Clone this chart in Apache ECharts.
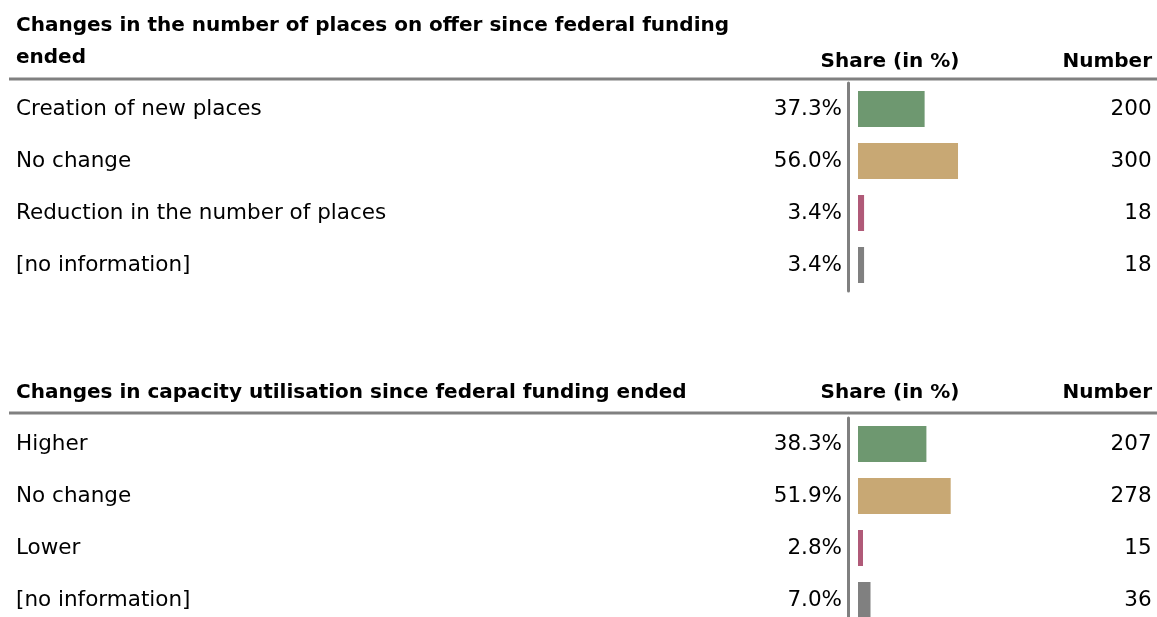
<!DOCTYPE html>
<html>
<head>
<meta charset="utf-8">
<script src="https://cdn.jsdelivr.net/npm/echarts@6/dist/echarts.min.js"></script>
<style>
  html, body { margin: 0; padding: 0; background: #fff; }
  #main { width: 1157px; height: 617px; }
</style>
</head>
<body>
<div id="main"></div>
<script>
// section 1: places on offer
const title1 = 'Changes in the number of places on offer since federal funding\nended'
const cats1 = ['Creation of new places', 'No change', 'Reduction in the number of places', '[no information]']
const shares1 = [37.3, 56.0, 3.4, 3.4]
const counts1 = [200, 300, 18, 18]

// section 2: capacity utilisation
const title2 = 'Changes in capacity utilisation since federal funding ended'
const cats2 = ['Higher', 'No change', 'Lower', '[no information]']
const shares2 = [38.3, 51.9, 2.8, 7.0]
const counts2 = [207, 278, 15, 36]

const headShare = 'Share (in %)'
const headNumber = 'Number'

const colors = ['#6e9870', '#c8a874', '#b05a78', '#808080']
const font = '"DejaVu Sans", sans-serif'
const fs = 21.5

const chart = echarts.init(document.getElementById('main'))

// one table block = grid + 3 y axes (labels, numbers, divider) + bar series
function block(idx, top, cats, shares, counts) {
  const grid = { left: 858, top: top, width: 178.6, height: 208, outerBoundsMode: 'none', containLabel: false }
  const xAxis = { gridIndex: idx, type: 'value', min: 0, max: 100, show: false }
  const yAxes = [
    {
      gridIndex: idx, type: 'category', data: cats, inverse: true, position: 'left',
      axisLine: { show: false }, axisTick: { show: false },
      axisLabel: { align: 'left', margin: 842, fontSize: fs, fontFamily: font, color: '#000' }
    },
    {
      gridIndex: idx, type: 'category', data: cats, inverse: true, position: 'right',
      axisLine: { show: false }, axisTick: { show: false },
      axisLabel: {
        align: 'right', margin: 115, fontSize: fs, fontFamily: font, color: '#000',
        formatter: (v, i) => String(counts[i])
      }
    },
    {
      gridIndex: idx, type: 'category', data: cats, inverse: true, position: 'left', offset: 10,
      axisLine: { show: true, lineStyle: { color: '#808080', width: 3 } },
      axisTick: { show: false }, axisLabel: { show: false }
    }
  ]
  const series = {
    type: 'bar',
    xAxisIndex: idx,
    yAxisIndex: idx * 3,
    barWidth: 36,
    data: shares.map((v, i) => ({ value: v, itemStyle: { color: colors[i] } })),
    label: {
      show: true, position: 'left', distance: 16,
      fontSize: fs, fontFamily: font, color: '#000',
      formatter: p => p.value.toFixed(1) + '%'
    }
  }
  return { grid, xAxis, yAxes, series }
}

const b1 = block(0, 83, cats1, shares1, counts1)
const b2 = block(1, 418, cats2, shares2, counts2)

function header(titleText, titleY, headY, lineY) {
  return [
    { type: 'text', style: { text: titleText, x: 16, y: titleY, font: 'bold 20px ' + font, fill: '#000', lineHeight: 32, textVerticalAlign: 'top' } },
    { type: 'text', style: { text: headShare, x: 890, y: headY, font: 'bold 20px ' + font, fill: '#000', textAlign: 'center', textVerticalAlign: 'middle' } },
    { type: 'text', style: { text: headNumber, x: 1152, y: headY, font: 'bold 20px ' + font, fill: '#000', textAlign: 'right', textVerticalAlign: 'middle' } },
    { type: 'line', shape: { x1: 9, y1: lineY, x2: 1157, y2: lineY }, style: { stroke: '#808080', lineWidth: 3 } }
  ]
}

chart.setOption({
  animation: false,
  grid: [b1.grid, b2.grid],
  xAxis: [b1.xAxis, b2.xAxis],
  yAxis: b1.yAxes.concat(b2.yAxes),
  series: [b1.series, b2.series],
  graphic: header(title1, 10, 62, 79).concat(header(title2, 377, 393, 413))
})
</script>
</body>
</html>
